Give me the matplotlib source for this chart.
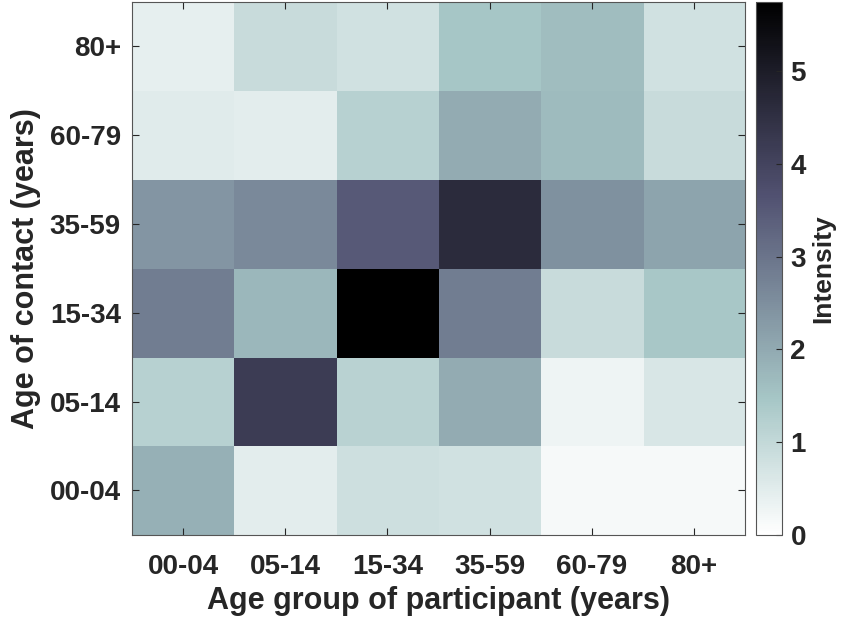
import numpy as np
import matplotlib
matplotlib.use("Agg")
import matplotlib.pyplot as plt

plt.rcParams['font.family'] = ['Liberation Sans', 'DejaVu Sans']
plt.rcParams['font.weight'] = 'bold'

groups = ['00-04', '05-14', '15-34', '35-59', '60-79', '80+']

# rows: contact age 00-04 ... 80+, columns: participant age 00-04 ... 80+
row_0004 = [1.88, 0.46, 0.82, 0.77, 0.15, 0.15]
row_0514 = [1.18, 4.20, 1.15, 1.96, 0.28, 0.65]
row_1534 = [2.83, 1.75, 5.75, 2.83, 0.92, 1.43]
row_3559 = [2.37, 2.60, 3.50, 4.61, 2.47, 2.09]
row_6079 = [0.51, 0.46, 1.17, 1.96, 1.67, 0.91]
row_80 = [0.42, 0.91, 0.77, 1.46, 1.63, 0.77]

M = np.array([row_0004, row_0514, row_1534, row_3559, row_6079, row_80])

fig = plt.figure(figsize=(8.41, 6.24), dpi=100)
ax = fig.add_axes([0.157, 0.143, 0.729, 0.854])
im = ax.imshow(M, cmap='bone_r', origin='lower', aspect='auto',
               vmin=0, vmax=5.75, interpolation='nearest')

tc = '#262626'
ax.set_xticks(range(6))
ax.set_xticklabels(groups)
ax.set_yticks(range(6))
ax.set_yticklabels(groups)
ax.tick_params(direction='in', top=True, right=True, length=5,
               labelsize=20, colors=tc)
ax.tick_params(axis='x', pad=14)
ax.tick_params(axis='y', pad=8)
for lab in ax.get_xticklabels() + ax.get_yticklabels():
    lab.set_fontweight('bold')
for s in ax.spines.values():
    s.set_color('#555555')
ax.set_xlabel('Age group of participant (years)', fontsize=22, fontweight='bold', color=tc, labelpad=4)
ax.set_ylabel('Age of contact (years)', fontsize=22, fontweight='bold', color=tc, labelpad=6)

cax = fig.add_axes([0.899, 0.143, 0.031, 0.854])
cb = fig.colorbar(im, cax=cax)
cb.set_ticks([0, 1, 2, 3, 4, 5])
cb.ax.tick_params(direction='in', length=4, labelsize=20, colors=tc, pad=6)
for lab in cb.ax.get_yticklabels():
    lab.set_fontweight('bold')
cb.outline.set_edgecolor('#555555')
cb.set_label('Intensity', fontsize=19, fontweight='bold', color=tc, labelpad=4)

fig.savefig('out.png', dpi=100)
